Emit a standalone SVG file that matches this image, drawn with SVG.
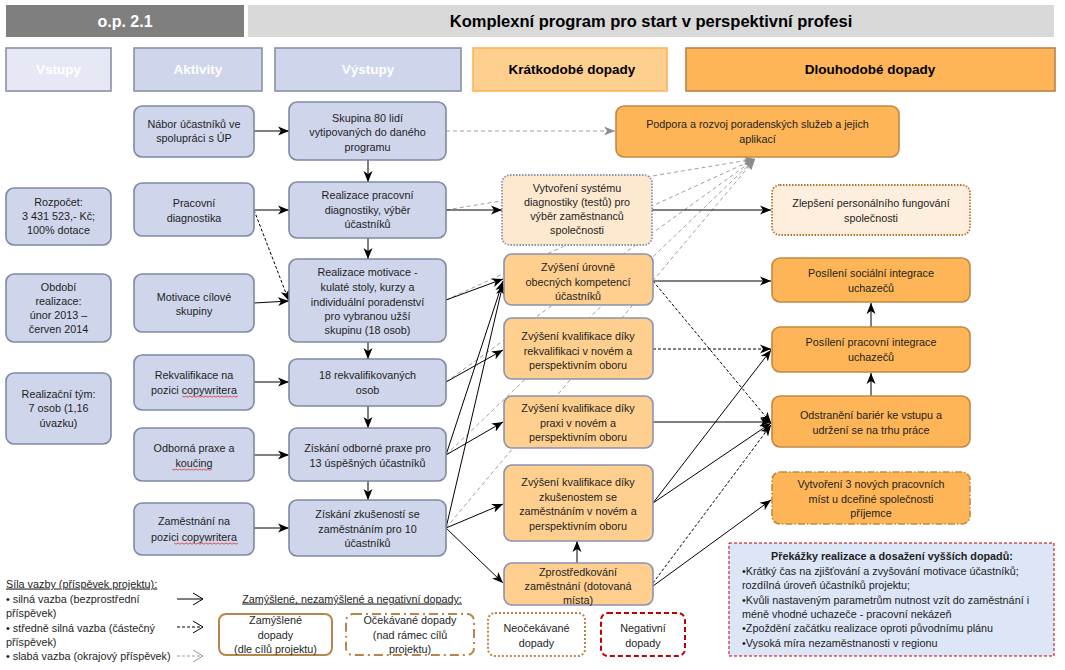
<svg xmlns="http://www.w3.org/2000/svg" width="1065" height="670" viewBox="0 0 1065 670">
<style>
text{font-family:"Liberation Sans",Arial,sans-serif;font-size:10.8px;fill:#1e1e1e;text-anchor:middle}
.hd{font-weight:bold;font-size:13.5px}
.hw{fill:#ffffff}
.lt{text-anchor:start}
.blue{fill:#cfd5ea;stroke:#7f89a6;stroke-width:1.6}
.st{fill:#fecf8f;stroke:#8a93b0;stroke-width:1.6}
.lg{fill:#fdb557;stroke:#c08a45;stroke-width:1.6}
.c{fill:none;stroke:#000;stroke-width:1}
.cd{fill:none;stroke:#000;stroke-width:1;stroke-dasharray:3,2}
.cg{fill:none;stroke:#a0a0a0;stroke-width:1;stroke-dasharray:4,3}
.sq{fill:none;stroke:#e02020;stroke-width:0.7}
</style>
<defs>
<marker id="ab" markerUnits="userSpaceOnUse" markerWidth="12" markerHeight="10" refX="11" refY="5" orient="auto">
<path d="M0,0.5 L11,5 L0,9.5 L3,5 z" fill="#000"/>
</marker>
<marker id="ag" markerUnits="userSpaceOnUse" markerWidth="12" markerHeight="10" refX="11" refY="5" orient="auto">
<path d="M0,0.5 L11,5 L0,9.5 L3,5 z" fill="#8c8c8c"/>
</marker>
</defs>
<rect width="1065" height="670" fill="#ffffff"/>

<!-- header -->
<g id="header">
<rect x="6" y="5" width="238" height="32" fill="#7f7f7f"/>
<text x="125" y="27" style="font-size:16px;font-weight:bold;fill:#fff">o.p. 2.1</text>
<rect x="248" y="5" width="806" height="32" fill="#d9d9d9"/>
<text x="651" y="27" style="font-size:16.5px;font-weight:bold;fill:#000">Komplexní program pro start v perspektivní profesi</text>
</g>

<g id="col-headers">
<rect x="6" y="48" width="105" height="43" fill="#e6e9f5" stroke="#8a91a8" stroke-width="1.6"/>
<text class="hd hw" x="58.5" y="74">Vstupy</text>
<rect x="134" y="48" width="128" height="43" fill="#cfd5ea" stroke="#8a91a8" stroke-width="1.6"/>
<text class="hd hw" x="198" y="74">Aktivity</text>
<rect x="275" y="48" width="186" height="43" fill="#cfd5ea" stroke="#8a91a8" stroke-width="1.6"/>
<text class="hd hw" x="368" y="74">Výstupy</text>
<rect x="473" y="48" width="194" height="43" fill="#fecf8f" stroke="#f9b65d" stroke-width="1.6"/>
<text class="hd" x="572" y="74" style="fill:#000">Krátkodobé dopady</text>
<rect x="686" y="48" width="369" height="43" fill="#fdb557" stroke="#b7834a" stroke-width="1.6"/>
<text class="hd" x="870" y="74" style="fill:#000">Dlouhodobé dopady</text>
</g>

<!-- connectors -->
<g id="connectors">
<line class="cg" x1="446" y1="131" x2="615" y2="131" marker-end="url(#ag)"/>
<line class="cg" x1="446" y1="210" x2="755" y2="159" marker-end="url(#ag)"/>
<line class="cg" x1="446" y1="300" x2="755" y2="159" marker-end="url(#ag)"/>
<line class="cg" x1="446" y1="382" x2="755" y2="159" marker-end="url(#ag)"/>
<line class="cg" x1="446" y1="455" x2="755" y2="159" marker-end="url(#ag)"/>
<line class="cg" x1="446" y1="528" x2="755" y2="159" marker-end="url(#ag)"/>
<line class="c" x1="254" y1="131" x2="289" y2="131" marker-end="url(#ab)"/>
<line class="c" x1="254" y1="210" x2="289" y2="210" marker-end="url(#ab)"/>
<line class="cd" x1="254" y1="210" x2="289" y2="301" marker-end="url(#ab)"/>
<line class="c" x1="254" y1="303" x2="289" y2="301" marker-end="url(#ab)"/>
<line class="c" x1="254" y1="382" x2="289" y2="382" marker-end="url(#ab)"/>
<line class="c" x1="254" y1="455" x2="289" y2="455" marker-end="url(#ab)"/>
<line class="c" x1="254" y1="528" x2="289" y2="528" marker-end="url(#ab)"/>
<line class="c" x1="368" y1="160" x2="368" y2="182" marker-end="url(#ab)"/>
<line class="c" x1="368" y1="238" x2="368" y2="259" marker-end="url(#ab)"/>
<line class="c" x1="368" y1="342" x2="368" y2="359" marker-end="url(#ab)"/>
<line class="c" x1="368" y1="406" x2="368" y2="428" marker-end="url(#ab)"/>
<line class="c" x1="368" y1="481" x2="368" y2="500" marker-end="url(#ab)"/>
<line class="c" x1="446" y1="210" x2="502" y2="210" marker-end="url(#ab)"/>
<line class="c" x1="446" y1="300" x2="503" y2="279" marker-end="url(#ab)"/>
<line class="c" x1="446" y1="382" x2="503" y2="350" marker-end="url(#ab)"/>
<line class="c" x1="446" y1="455" x2="503" y2="281" marker-end="url(#ab)"/>
<line class="c" x1="446" y1="455" x2="503" y2="422" marker-end="url(#ab)"/>
<line class="c" x1="446" y1="528" x2="503" y2="284" marker-end="url(#ab)"/>
<line class="c" x1="446" y1="528" x2="503" y2="504" marker-end="url(#ab)"/>
<line class="c" x1="446" y1="528" x2="503" y2="583" marker-end="url(#ab)"/>
<line class="c" x1="577" y1="563" x2="577" y2="541" marker-end="url(#ab)"/>
<line class="c" x1="652" y1="210" x2="771" y2="210" marker-end="url(#ab)"/>
<line class="c" x1="653" y1="281" x2="771" y2="281" marker-end="url(#ab)"/>
<line class="cd" x1="653" y1="281" x2="771" y2="423" marker-end="url(#ab)"/>
<line class="cd" x1="653" y1="349" x2="771" y2="349" marker-end="url(#ab)"/>
<line class="c" x1="653" y1="422" x2="771" y2="422" marker-end="url(#ab)"/>
<line class="c" x1="653" y1="503" x2="771" y2="350" marker-end="url(#ab)"/>
<line class="c" x1="653" y1="503" x2="771" y2="423" marker-end="url(#ab)"/>
<line class="cd" x1="653" y1="583" x2="771" y2="425" marker-end="url(#ab)"/>
<line class="c" x1="653" y1="586" x2="771" y2="500" marker-end="url(#ab)"/>
<line class="c" x1="871" y1="327" x2="871" y2="303" marker-end="url(#ab)"/>
<line class="c" x1="871" y1="396" x2="871" y2="373" marker-end="url(#ab)"/>
</g>

<!-- inputs -->
<g id="in-rozpocet">
<rect class="blue" x="6" y="188" width="105" height="57" rx="8"/>
<text x="58.5" y="205.5">Rozpočet:</text>
<text x="58.5" y="219.5">3 431 523,- Kč;</text>
<text x="58.5" y="233.5">100% dotace</text>
</g>
<g id="in-obdobi">
<rect class="blue" x="6" y="274" width="105" height="68" rx="8"/>
<text x="58.5" y="290.5">Období</text>
<text x="58.5" y="304.5">realizace:</text>
<text x="58.5" y="318.5">únor 2013 –</text>
<text x="58.5" y="332.5">červen 2014</text>
</g>
<g id="in-tym">
<rect class="blue" x="6" y="373" width="105" height="71" rx="8"/>
<text x="58.5" y="397.5">Realizační tým:</text>
<text x="58.5" y="411.5">7 osob (1,16</text>
<text x="58.5" y="426.5">úvazku)</text>
</g>

<!-- activities -->
<g id="act-nabor">
<rect class="blue" x="134" y="106" width="120" height="51" rx="8"/>
<text x="194" y="127.5">Nábor účastníků ve</text>
<text x="194" y="141.5">spolupráci s ÚP</text>
</g>
<g id="act-diag">
<rect class="blue" x="134" y="183" width="120" height="53" rx="8"/>
<text x="194" y="206.5">Pracovní</text>
<text x="194" y="221.5">diagnostika</text>
</g>
<g id="act-motivace">
<rect class="blue" x="134" y="274" width="120" height="58" rx="8"/>
<text x="194" y="300.5">Motivace cílové</text>
<text x="194" y="314.5">skupiny</text>
</g>
<g id="act-rekval">
<rect class="blue" x="134" y="355" width="120" height="55" rx="8"/>
<text x="194" y="378.5">Rekvalifikace na</text>
<text x="194" y="393.5">pozici copywritera</text>
<path class="sq" d="M182,396 l2,1.2 l2,-1.2 l2,1.2 l2,-1.2 l2,1.2 l2,-1.2 l2,1.2 l2,-1.2 l2,1.2 l2,-1.2 l2,1.2 l2,-1.2 l2,1.2 l2,-1.2 l2,1.2 l2,-1.2 l2,1.2 l2,-1.2 l2,1.2 l2,-1.2 l2,1.2 l2,-1.2 l2,1.2 l2,-1.2 l2,1.2 l2,-1.2 l2,1.2 l2,-1.2"/>
</g>
<g id="act-praxe">
<rect class="blue" x="134" y="428" width="120" height="53" rx="8"/>
<text x="194" y="451.5">Odborná praxe a</text>
<text x="194" y="466.5">koučing</text>
<path class="sq" d="M172,469 l2,1.2 l2,-1.2 l2,1.2 l2,-1.2 l2,1.2 l2,-1.2 l2,1.2 l2,-1.2 l2,1.2 l2,-1.2 l2,1.2 l2,-1.2 l2,1.2 l2,-1.2 l2,1.2 l2,-1.2 l2,1.2 l2,-1.2 l2,1.2 l2,-1.2"/>
</g>
<g id="act-zamestnani">
<rect class="blue" x="134" y="503" width="120" height="52" rx="8"/>
<text x="194" y="524.5">Zaměstnání na</text>
<text x="194" y="540.5">pozici copywritera</text>
<path class="sq" d="M174,543 l2,1.2 l2,-1.2 l2,1.2 l2,-1.2 l2,1.2 l2,-1.2 l2,1.2 l2,-1.2 l2,1.2 l2,-1.2 l2,1.2 l2,-1.2 l2,1.2 l2,-1.2 l2,1.2 l2,-1.2 l2,1.2 l2,-1.2 l2,1.2 l2,-1.2 l2,1.2 l2,-1.2 l2,1.2 l2,-1.2 l2,1.2 l2,-1.2 l2,1.2 l2,-1.2 l2,1.2 l2,-1.2 l2,1.2 l2,-1.2"/>
</g>

<!-- outputs -->
<g id="out-skupina">
<rect class="blue" x="289" y="102" width="157" height="58" rx="8"/>
<text x="367.5" y="121.5">Skupina  80 lidí</text>
<text x="367.5" y="135.5">vytipovaných do daného</text>
<text x="367.5" y="150.5">programu</text>
</g>
<g id="out-diag">
<rect class="blue" x="289" y="182" width="157" height="56" rx="8"/>
<text x="367.5" y="198.5">Realizace pracovní</text>
<text x="367.5" y="213.5">diagnostiky, výběr</text>
<text x="367.5" y="227.5">účastníků</text>
</g>
<g id="out-motivace">
<rect class="blue" x="289" y="259" width="157" height="83" rx="8"/>
<text x="367.5" y="275.5">Realizace motivace -</text>
<text x="367.5" y="290.5">kulaté stoly, kurzy a</text>
<text x="367.5" y="305.5">individuální poradenství</text>
<text x="367.5" y="319.5">pro vybranou užší</text>
<text x="367.5" y="333.5">skupinu (18 osob)</text>
</g>
<g id="out-rekval">
<rect class="blue" x="289" y="359" width="157" height="47" rx="8"/>
<text x="367.5" y="378.5">18 rekvalifikovaných</text>
<text x="367.5" y="393.5">osob</text>
</g>
<g id="out-praxe">
<rect class="blue" x="289" y="428" width="157" height="53" rx="8"/>
<text x="367.5" y="451.5">Získání odborné praxe pro</text>
<text x="367.5" y="466.5">13 úspěšných účastníků</text>
</g>
<g id="out-zkusenosti">
<rect class="blue" x="289" y="500" width="157" height="56" rx="8"/>
<text x="367.5" y="517.5">Získání zkušeností se</text>
<text x="367.5" y="532.5">zaměstnáním pro 10</text>
<text x="367.5" y="546.5">účastníků</text>
</g>

<!-- short-term -->
<g id="st-system">
<rect x="502" y="175" width="150" height="70" rx="8" fill="#fde9cf" stroke="#8a93b0" stroke-width="1.8" stroke-dasharray="1.5,1.5"/>
<text x="577" y="191.5">Vytvoření systému</text>
<text x="577" y="205.5">diagnostiky (testů) pro</text>
<text x="577" y="219.5">výběr zaměstnanců</text>
<text x="577" y="233.5">společnosti</text>
</g>
<g id="st-kompetence">
<rect class="st" x="504" y="254" width="149" height="51" rx="8"/>
<text x="578" y="270.5">Zvýšení úrovně</text>
<text x="578" y="285.5">obecných kompetencí</text>
<text x="578" y="299.5">účastníků</text>
</g>
<g id="st-rekval">
<rect class="st" x="504" y="318" width="149" height="61" rx="8"/>
<text x="578" y="339.5">Zvýšení kvalifikace díky</text>
<text x="578" y="354.5">rekvalifikaci v novém a</text>
<text x="578" y="368.5">perspektivním oboru</text>
</g>
<g id="st-praxe">
<rect class="st" x="504" y="396" width="149" height="52" rx="8"/>
<text x="578" y="411.5">Zvýšení kvalifikace díky</text>
<text x="578" y="426.5">praxi v novém  a</text>
<text x="578" y="440.5">perspektivním oboru</text>
</g>
<g id="st-zkusenosti">
<rect class="st" x="504" y="465" width="149" height="76" rx="8"/>
<text x="578" y="485.5">Zvýšení kvalifikace díky</text>
<text x="578" y="500.5">zkušenostem se</text>
<text x="578" y="514.5">zaměstnáním v novém a</text>
<text x="578" y="529.5">perspektivním oboru</text>
</g>
<g id="st-zprostredkovani">
<rect class="st" x="504" y="563" width="149" height="42" rx="8"/>
<text x="578" y="575.5">Zprostředkování</text>
<text x="578" y="590">zaměstnání (dotovaná</text>
<text x="578" y="603.5">místa)</text>
</g>

<!-- long-term -->
<g id="lt-podpora">
<rect class="lg" x="616" y="106" width="283" height="51" rx="8"/>
<text x="757.5" y="127.5">Podpora a rozvoj poradenských  služeb a jejich</text>
<text x="757.5" y="142.5">aplikací</text>
</g>
<g id="lt-personal">
<rect x="772" y="185" width="198" height="50" rx="8" fill="#fdeedd" stroke="#b8732a" stroke-width="1.8" stroke-dasharray="1.5,1.5"/>
<text x="871" y="206.5">Zlepšení personálního fungování</text>
<text x="871" y="221.5">společnosti</text>
</g>
<g id="lt-socialni">
<rect class="lg" x="772" y="258" width="198" height="44" rx="8"/>
<text x="871" y="276.5">Posílení sociální integrace</text>
<text x="871" y="291.5">uchazečů</text>
</g>
<g id="lt-pracovni">
<rect class="lg" x="772" y="327" width="198" height="45" rx="8"/>
<text x="871" y="345.5">Posílení pracovní integrace</text>
<text x="871" y="360.5">uchazečů</text>
</g>
<g id="lt-bariery">
<rect class="lg" x="772" y="396" width="198" height="51" rx="8"/>
<text x="871" y="418.5">Odstranění bariér ke vstupu a</text>
<text x="871" y="433.5">udržení se na trhu práce</text>
</g>
<g id="lt-mista">
<rect x="772" y="472" width="198" height="52" rx="8" fill="#fdb557" stroke="#c08a45" stroke-width="1.6" stroke-dasharray="7,2,1.5,2"/>
<text x="871" y="487.5">Vytvoření 3 nových pracovních</text>
<text x="871" y="502.5">míst u dceřiné společnosti</text>
<text x="871" y="516.5">příjemce</text>
</g>

<!-- obstacles -->
<g id="obstacles">
<rect x="729" y="543" width="325" height="113" fill="#dce6f6" stroke="#c00000" stroke-width="1" stroke-dasharray="3,2"/>
<text x="892" y="559.5" style="font-weight:bold">Překážky realizace a dosažení  vyšších dopadů:</text>
<text class="lt" x="742" y="574.5">•Krátký čas na zjišťování a zvyšování  motivace účastníků;</text>
<text class="lt" x="742" y="589">rozdílná úroveň účastníků projektu;</text>
<text class="lt" x="742" y="603.5">•Kvůli nastaveným parametrům nutnost vzít do zaměstnání i</text>
<text class="lt" x="742" y="617.5">méně vhodné  uchazeče - pracovní  nekázeň</text>
<text class="lt" x="742" y="632">•Zpoždění začátku realizace oproti původnímu  plánu</text>
<text class="lt" x="742" y="646.5">•Vysoká míra nezaměstnanosti v regionu</text>
</g>

<!-- legend -->
<g id="legend-strength">
<text class="lt" x="6" y="587.5" text-decoration="underline">Síla vazby (příspěvek projektu):</text>
<text class="lt" x="6" y="602.5">• silná vazba (bezprostřední</text>
<text class="lt" x="6" y="616.5">příspěvek)</text>
<text class="lt" x="6" y="631.5">• středně silná vazba (částečný</text>
<text class="lt" x="6" y="645.5">příspěvek)</text>
<text class="lt" x="6" y="659.5">• slabá vazba (okrajový příspěvek)</text>
<line x1="177" y1="599" x2="203" y2="599" stroke="#000" stroke-width="1"/>
<polyline points="193,593 203,599 193,605" fill="none" stroke="#000" stroke-width="1"/>
<line x1="177" y1="627" x2="203" y2="627" stroke="#000" stroke-width="1" stroke-dasharray="3,2"/>
<polyline points="193,621 203,627 193,633" fill="none" stroke="#000" stroke-width="1"/>
<line x1="177" y1="656" x2="203" y2="656" stroke="#9a9a9a" stroke-width="1" stroke-dasharray="3,2"/>
<polyline points="193,650 203,656 193,662" fill="none" stroke="#9a9a9a" stroke-width="1"/>
</g>
<g id="legend-types">
<text x="352" y="602.5" text-decoration="underline">Zamýšlené, nezamýšlené a negativní dopady:</text>
<rect x="219" y="614" width="113" height="41" rx="7" fill="#fff" stroke="#b8864b" stroke-width="2"/>
<text x="275.5" y="623.5">Zamýšlené</text>
<text x="275.5" y="638.5">dopady</text>
<text x="275.5" y="652.5">(dle cílů projektu)</text>
<rect x="346" y="614" width="128" height="41" rx="7" fill="#fff" stroke="#b8864b" stroke-width="2" stroke-dasharray="9,4,2,4"/>
<text x="410" y="623.5">Očekávané dopady</text>
<text x="410" y="638.5">(nad rámec  cílů</text>
<text x="410" y="652.5">projektu)</text>
<rect x="488" y="613" width="97" height="43" rx="7" fill="#fff" stroke="#b8864b" stroke-width="2" stroke-dasharray="2,2"/>
<text x="536.5" y="631.5">Neočekávané</text>
<text x="536.5" y="646.5">dopady</text>
<rect x="601" y="613" width="84" height="43" rx="7" fill="#fff" stroke="#c00000" stroke-width="2" stroke-dasharray="5,3"/>
<text x="643" y="631.5">Negativní</text>
<text x="643" y="646.5">dopady</text>
</g>
</svg>
